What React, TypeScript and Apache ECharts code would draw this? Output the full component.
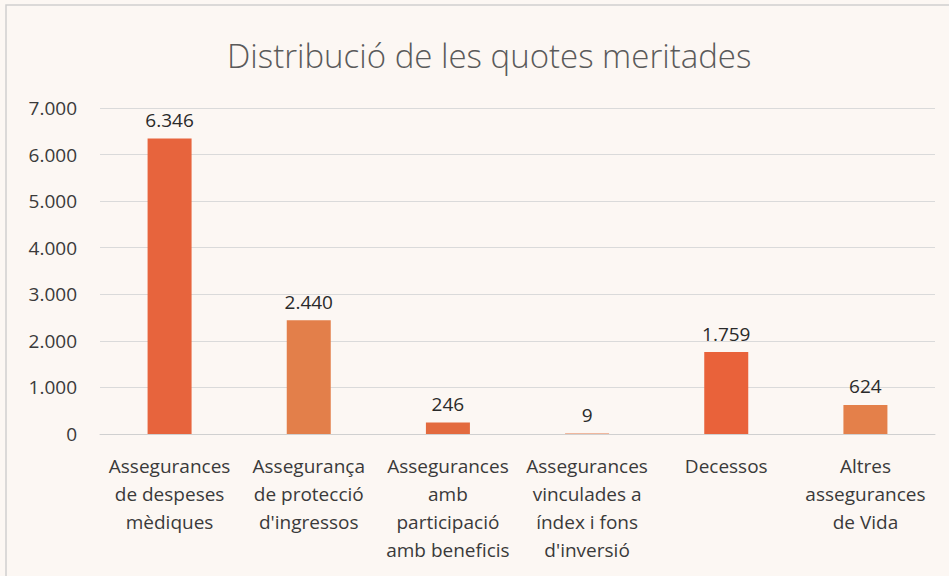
import React, { useEffect, useRef } from "react";
import * as echarts from "echarts";

const titleText = "Distribució de les quotes meritades";
const categories = [
  "Assegurances\nde despeses\nmèdiques",
  "Assegurança\nde protecció\nd'ingressos",
  "Assegurances\namb\nparticipació\namb beneficis",
  "Assegurances\nvinculades a\níndex i fons\nd'inversió",
  "Decessos",
  "Altres\nassegurances\nde Vida",
];
const values = [6346, 2440, 246, 9, 1759, 624];
const barColors = ["#E7643D", "#E37F4A", "#E36A3E", "#E37848", "#E9623A", "#E4804A"];
const yTicks = { min: 0, max: 7000, interval: 1000 };

const fmt = (v: number) => v.toLocaleString("de-DE");

export default function App() {
  const ref = useRef<HTMLDivElement>(null);
  useEffect(() => {
    if (!ref.current) return;
    const chart = echarts.init(ref.current, null, { renderer: "svg" });
    const font = "'Open Sans', sans-serif";
    chart.setOption({
      animation: false,
      backgroundColor: "#FCF7F3",
      textStyle: { fontFamily: font },
      title: {
        text: titleText,
        left: 222,
        top: 34,
        textStyle: { fontFamily: font, fontWeight: 300, fontSize: 33, color: "#5A5A5A" },
      },
      graphic: [
        {
          type: "rect",
          shape: { x: 6, y: 5, width: 1000, height: 700 },
          style: { fill: "none", stroke: "#CFCFCF", lineWidth: 1.5 },
          silent: true,
        },
      ],
      grid: { left: 100, right: 14, top: 108, bottom: 142 },
      xAxis: {
        type: "category",
        data: categories,
        axisLine: { lineStyle: { color: "#D0D0D0" } },
        axisTick: { show: false },
        axisLabel: {
          interval: 0,
          color: "#3A3A3A",
          fontSize: 19,
          lineHeight: 28,
          margin: 18,
          fontFamily: font,
        },
      },
      yAxis: {
        type: "value",
        min: yTicks.min,
        max: yTicks.max,
        interval: yTicks.interval,
        axisLine: { show: false },
        axisTick: { show: false },
        splitLine: { lineStyle: { color: "#DADADA", width: 1 } },
        axisLabel: {
          color: "#3A3A3A",
          fontSize: 19,
          margin: 23,
          fontFamily: font,
          formatter: (v: number) => fmt(v),
        },
      },
      series: [
        {
          type: "bar",
          barWidth: 44,
          data: values.map((v, i) => ({ value: v, itemStyle: { color: barColors[i] } })),
          label: {
            show: true,
            position: "top",
            distance: 9,
            color: "#2A2A2A",
            fontSize: 19,
            fontFamily: font,
            formatter: (p: any) => fmt(p.value),
          },
        },
      ],
    });
    return () => chart.dispose();
  }, []);
  return (
    <div
      ref={ref}
      style={{ position: "fixed", left: 0, top: 0, width: 949, height: 576 }}
    />
  );
}
